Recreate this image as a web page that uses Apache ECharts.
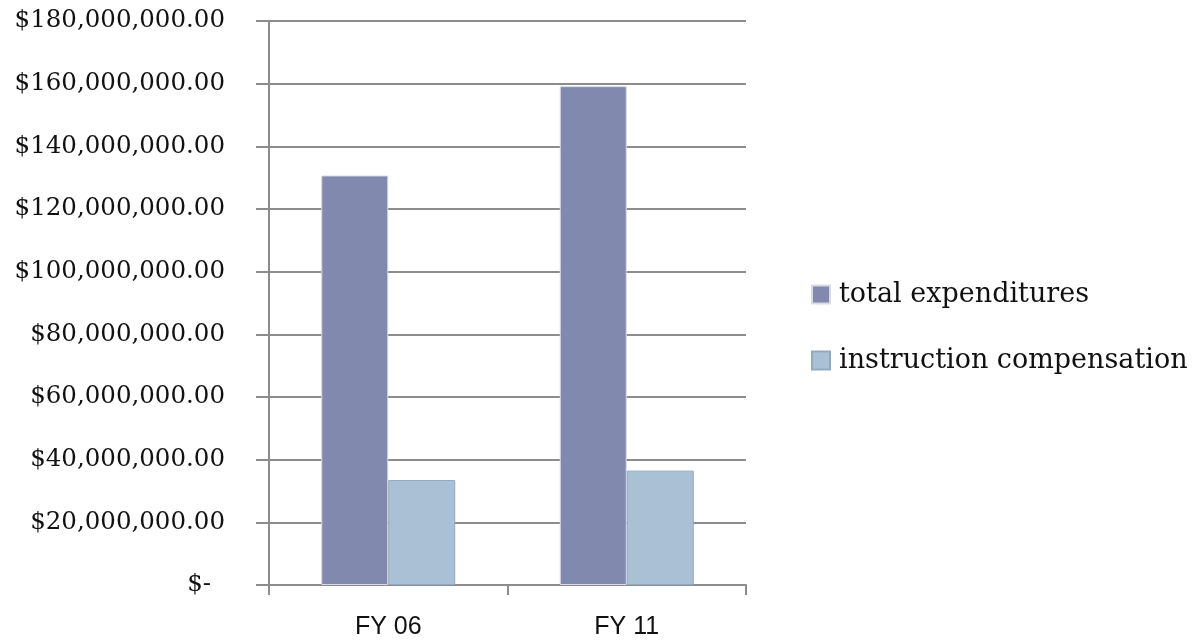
<!DOCTYPE html>
<html>
<head>
<meta charset="utf-8">
<script src="https://cdn.jsdelivr.net/npm/echarts@6/dist/echarts.min.js"></script>
<style>
  html, body { margin: 0; padding: 0; background: #fff; }
  #chart { width: 1196px; height: 640px; }
</style>
</head>
<body>
<div id="chart"></div>
<script>
const categories = ['FY 06', 'FY 11']
const seriesNames = ['total expenditures', 'instruction compensation']
const totalExp = [130700000, 159200000]
const instrComp = [33500000, 36500000]
const COLORS = ['#8189af', '#aac0d5']

const fmt = v => {
  if (v === 0) return '{z|$-}'
  return '$' + v.toLocaleString('en-US', { minimumFractionDigits: 2, maximumFractionDigits: 2 })
}

const chart = echarts.init(document.getElementById('chart'))
const gridLine = { color: '#8c8c8c', width: 2 }

chart.setOption({
  animation: false,
  grid: { left: 269, right: 450, top: 21, bottom: 50, containLabel: false },
  legend: {
    orient: 'vertical', left: 806, top: 276,
    itemWidth: 18, itemHeight: 18, itemGap: 39,
    icon: 'rect',
    textStyle: { fontFamily: 'DejaVu Serif', fontSize: 27, lineHeight: 27, color: '#111', padding: [0, 0, 0, 4] },
    data: seriesNames,
  },
  xAxis: {
    type: 'category', data: categories,
    axisLine: { lineStyle: gridLine },
    axisTick: { show: true, length: 10, lineStyle: gridLine },
    axisLabel: { margin: 30, fontFamily: 'Liberation Sans', fontSize: 25, color: '#111' },
  },
  yAxis: {
    type: 'value', min: 0, max: 180000000, interval: 20000000,
    axisLine: { show: true, lineStyle: gridLine },
    axisTick: { show: true, inside: false, length: 13, lineStyle: gridLine },
    splitLine: { show: true, lineStyle: gridLine },
    axisLabel: {
      margin: 44, fontFamily: 'DejaVu Serif', fontSize: 24.5, color: '#111',
      formatter: fmt,
      rich: { z: { fontFamily: 'DejaVu Serif', fontSize: 24.5, color: '#111', padding: [0, 14, 0, 0] } },
    },
  },
  series: [
    {
      name: seriesNames[0], type: 'bar', data: totalExp,
      barWidth: 67, barGap: '0%',
      itemStyle: { color: COLORS[0], borderColor: '#d8dbe4', borderWidth: 1 },
    },
    {
      name: seriesNames[1], type: 'bar', data: instrComp,
      barWidth: 67, barGap: '0%',
      itemStyle: { color: COLORS[1], borderColor: '#93a9bf', borderWidth: 1 },
    },
  ],
})
</script>
</body>
</html>
